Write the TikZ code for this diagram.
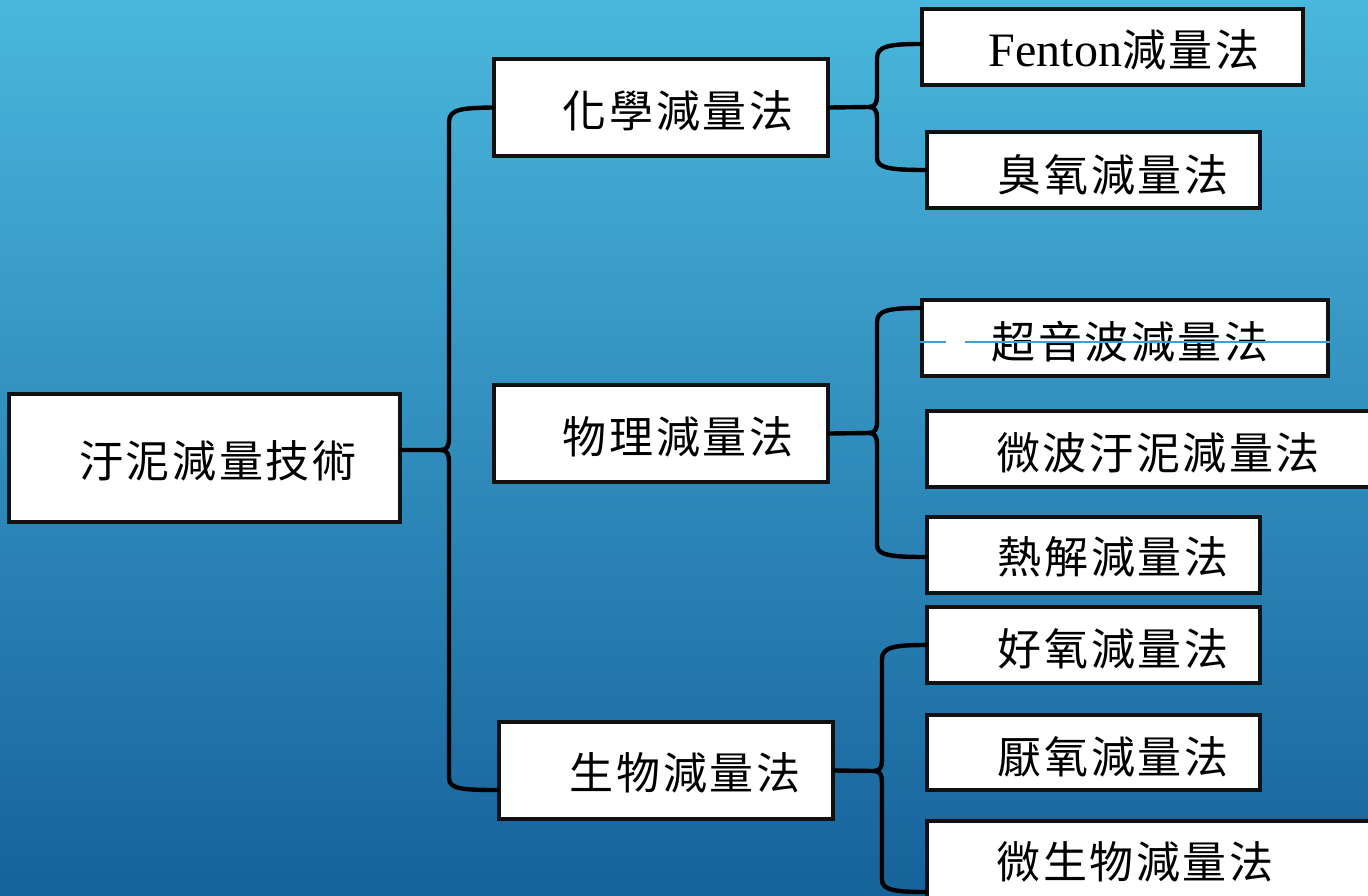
\documentclass[tikz,border=0pt]{standalone}
\usepackage{fontspec}
\setmainfont{Liberation Serif}
\newfontfamily\cjk[LetterSpace=6]{Noto Sans CJK TC}
\usetikzlibrary{fit}
\definecolor{bgtop}{HTML}{4AB7DC}
\definecolor{bgmid}{HTML}{2E90C2}
\definecolor{bgbot}{HTML}{16629B}
\definecolor{frame}{HTML}{111111}
\definecolor{guide}{HTML}{3AA2D2}
\begin{document}
\begin{tikzpicture}[x=0.75pt,y=-0.75pt,
  box/.style={draw=frame,line width=2.3pt,fill=white,inner sep=0pt},
  lbl/.style={font=\cjk\fontsize{33}{40}\selectfont,inner sep=0pt,text=black},
  brace/.style={draw=black,line width=3.3pt,line cap=round,line join=round}]
\useasboundingbox (0,0) rectangle (1368,896);
\clip (0,0) rectangle (1368,896);
\shade[top color=bgtop,middle color=bgmid,bottom color=bgbot] (0,0) rectangle (1368,896);

% boxes
\node[box,fit={(9,394)(400,522)}] (root) {};
\node[box,fit={(494,59)(828,156)}] (chem) {};
\node[box,fit={(494,385)(828,482)}] (phys) {};
\node[box,fit={(499,722)(833,819)}] (bio) {};
\node[box,fit={(922,9)(1303,85)}] (fenton) {};
\node[box,fit={(927,132)(1260,208)}] (ozone) {};
\node[box,fit={(922,300)(1328,376)}] (sono) {};
\node[box,fit={(927,411)(1390,487)}] (micw) {};
\node[box,fit={(927,517)(1260,593)}] (pyro) {};
\node[box,fit={(927,607)(1260,683)}] (aero) {};
\node[box,fit={(927,715)(1260,790)}] (anae) {};
\node[box,fit={(927,821)(1390,920)}] (micro) {};

% labels
\node[lbl] (roott) at (218,461) {汙泥減量技術};
\node[lbl] (chemt) at (678,111) {化學減量法};
\node[lbl] (physt) at (678,437) {物理減量法};
\node[lbl] (biot) at (685,773) {生物減量法};
\node[lbl] (fentont) at (1124,50) {{\rmfamily\fontsize{36}{40}\selectfont Fenton}減量法};
\node[lbl] (ozonet) at (1113,175) {臭氧減量法};
\node[lbl] (sonot) at (1130,342) {超音波減量法};
\node[lbl] (micwt) at (1158,453) {微波汙泥減量法};
\node[lbl] (pyrot) at (1113,557) {熱解減量法};
\node[lbl] (aerot) at (1113,649) {好氧減量法};
\node[lbl] (anaet) at (1113,757) {厭氧減量法};
\node[lbl] (microt) at (1135,862) {微生物減量法};

% stray guide line
\draw[guide,line width=0.8pt] (sono.west |- 0,342) -- (946,342);
\draw[guide,line width=0.8pt] (965,342) -- (sono.east |- 0,342);

% brace 1
\draw[brace] (chem.west) .. controls (462,108) and (449,109) .. (449,122) -- (449,438)
  .. controls (449,446) and (447,450) .. (441,450) -- (root.east |- 0,450);
\draw[brace] (bio.west |- 0,790) .. controls (462,790) and (449,789) .. (449,778) -- (449,462)
  .. controls (449,454) and (447,450) .. (441,450);
% brace 2
\draw[brace] (fenton.west |- 0,44) .. controls (890,44) and (877,46) .. (877,58) -- (877,96)
  .. controls (877,103) and (875,107) .. (869,107) -- (chem.east);
\draw[brace] (ozone.west) .. controls (890,170) and (877,168) .. (877,158) -- (877,118)
  .. controls (877,111) and (875,107) .. (869,107);
% brace 3
\draw[brace] (sono.west |- 0,308) .. controls (890,308) and (877,310) .. (877,322) -- (877,422)
  .. controls (877,429) and (875,433) .. (869,433) -- (phys.east);
\draw[brace] (pyro.west |- 0,557) .. controls (890,557) and (877,555) .. (877,545) -- (877,444)
  .. controls (877,437) and (875,433) .. (869,433);
% brace 4
\draw[brace] (aero.west) .. controls (895,645) and (882,647) .. (882,659) -- (882,760)
  .. controls (882,767) and (880,771) .. (874,771) -- (bio.east);
\draw[brace] (micro.west |- 0,892) .. controls (895,892) and (882,890) .. (882,880) -- (882,782)
  .. controls (882,775) and (880,771) .. (874,771);
\end{tikzpicture}
\end{document}
